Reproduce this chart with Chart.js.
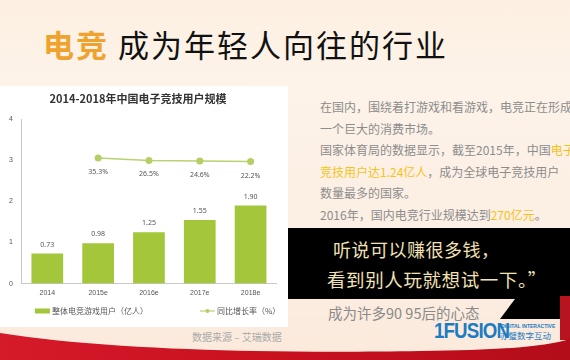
<!DOCTYPE html>
<html><head><meta charset="utf-8">
<script src="https://cdn.jsdelivr.net/npm/chart.js@4/dist/chart.umd.min.js"></script>
<style>
html,body{margin:0;padding:0;}
body{width:570px;height:360px;overflow:hidden;position:relative;font-family:"Noto Sans CJK SC","Noto Sans",sans-serif;
 background:linear-gradient(180deg,#fdf0e2 0%,#fdf3e9 25%,#fcefe4 60%,#fbeadc 100%);}
.abs{position:absolute;white-space:nowrap;}
#title{left:43px;top:22px;font-size:31px;letter-spacing:2px;color:#111;line-height:44px;}
#title b{color:#f0a22e;font-weight:bold;}
#panel{left:0;top:86px;width:288px;height:241px;background:#fff;}
#txt{left:320px;top:96px;font-size:12px;line-height:21.6px;color:#8c8c8c;}
#txt .hl{color:#f6c21a;}
#black{left:0;top:0;width:570px;height:360px;}
#q1{left:333px;top:236px;font-size:18px;color:#f2e2b4;letter-spacing:0.5px;}
#q2{left:327px;top:266px;font-size:18.5px;color:#f2e2b4;letter-spacing:0.6px;}
#sub{left:328px;top:302px;font-size:14.5px;color:#8a8a8a;}
#src{left:192px;top:329px;font-size:10px;color:#aaa;}
#logo{left:434px;top:318px;font-family:"Liberation Sans Narrow","Liberation Sans",sans-serif;font-weight:bold;font-size:22px;color:#1b7cc4;letter-spacing:-1px;transform:scaleX(0.85);transform-origin:0 0;}
#logo2{left:501px;top:323px;font-size:5px;color:#1b7cc4;font-family:"Liberation Sans",sans-serif;font-weight:bold;}
#logo3{left:500px;top:329px;font-size:8.5px;color:#1b7cc4;}
</style></head>
<body>
<svg class="abs" id="black" width="570" height="360" viewBox="0 0 570 360">
 <defs><linearGradient id="rg" x1="0" y1="0" x2="1" y2="0">
  <stop offset="0" stop-color="#d51a2a"/><stop offset="0.5" stop-color="#c8101f"/><stop offset="1" stop-color="#b30d1a"/></linearGradient></defs>
 <polygon points="288,228 570,228 570,319 500,319 515,299 288,299" fill="#000"/>
 <rect x="560" y="296" width="10" height="44" fill="#b8141f"/>
 <path d="M0,333 C120,352 300,353 420,351 C500,350 545,347 570,339 L570,360 L0,360 Z" fill="url(#rg)"/>
</svg>
<div class="abs" id="title"><b>电竞</b> 成为年轻人向往的行业</div>
<div class="abs" id="panel"><canvas id="c" width="288" height="241"></canvas></div>
<div class="abs" id="txt">在国内，围绕着打游戏和看游戏，电竞正在形成<br>一个巨大的消费市场。<br>国家体育局的数据显示，截至2015年，中国<span class="hl">电子</span><br><span class="hl">竞技用户达1.24亿人</span>，成为全球电子竞技用户<br>数量最多的国家。<br>2016年，国内电竞行业规模达到<span class="hl">270亿元</span>。</div>
<div class="abs" id="q1">听说可以赚很多钱，</div>
<div class="abs" id="q2">看到别人玩就想试一下。”</div>
<div class="abs" id="sub">成为许多90 95后的心态</div>
<div class="abs" id="src">数据来源 – 艾瑞数据</div>
<div class="abs" id="logo">1FUSION</div>
<div class="abs" id="logo2">DIGITAL INTERACTIVE</div>
<div class="abs" id="logo3">亦璧数字互动</div>
<script>
const chartTitle = '2014-2018年中国电子竞技用户规模';
const categories = ['2014','2015e','2016e','2017e','2018e'];
const users = [0.73, 0.98, 1.25, 1.55, 1.90];
const growth = [null, 35.3, 26.5, 24.6, 22.2];
const seriesNames = ['整体电竞游戏用户（亿人）', '同比增长率（%）'];
const yTicks = [0, 1, 2, 3, 4];

const labelPlugin = {
  id: 'valueLabels',
  afterDatasetsDraw(chart) {
    const ctx = chart.ctx;
    chart.data.datasets.forEach((ds, i) => {
      const meta = chart.getDatasetMeta(i);
      meta.data.forEach((el, j) => {
        const v = ds.data[j];
        if (v == null) return;
        ctx.save();
        ctx.font = '7px "Noto Sans","DejaVu Sans",sans-serif';
        ctx.fillStyle = '#555';
        ctx.textAlign = 'center';
        ctx.textBaseline = 'middle';
        if (ds.type === 'bar') ctx.fillText(v.toFixed(2), el.x, el.y - 9);
        else ctx.fillText(v.toFixed(1) + '%', el.x, el.y + 14);
        ctx.restore();
      });
    });
  }
};

const legendPlugin = {
  id: 'customLegend',
  afterDraw(chart) {
    const ctx = chart.ctx;
    ctx.save();
    ctx.font = '8px "Noto Sans CJK SC",sans-serif';
    ctx.textBaseline = 'middle';
    const y = chart.height - 16;
    let x = chart.chartArea.left + 13;
    chart.data.datasets.forEach((ds) => {
      if (ds.type === 'bar') {
        ctx.fillStyle = ds.backgroundColor;
        ctx.fillRect(x, y - 2.5, 15, 5);
      } else {
        ctx.strokeStyle = ds.borderColor; ctx.lineWidth = 1.2;
        ctx.beginPath(); ctx.moveTo(x, y); ctx.lineTo(x + 15, y); ctx.stroke();
        ctx.fillStyle = ds.pointBackgroundColor;
        ctx.beginPath(); ctx.arc(x + 7.5, y, 2, 0, Math.PI * 2); ctx.fill();
      }
      x += 17;
      ctx.fillStyle = '#555';
      ctx.fillText(ds.label, x, y);
      x += ctx.measureText(ds.label).width + 52;
    });
    ctx.restore();
  }
};

new Chart(document.getElementById('c'), {
  data: {
    labels: categories,
    datasets: [
      { type: 'bar', label: seriesNames[0], data: users, backgroundColor: '#a3c63a', borderWidth: 0,
        categoryPercentage: 0.8, barPercentage: 0.78, yAxisID: 'y' },
      { type: 'line', label: seriesNames[1], data: growth, borderColor: '#b9d271', backgroundColor: '#b9d271',
        borderWidth: 1.5, pointRadius: 3.5, pointBackgroundColor: '#b5cf66', pointBorderWidth: 0,
        yAxisID: 'y2' }
    ]
  },
  options: {
    responsive: false, animation: false,
    layout: { padding: { left: 0, right: 12, top: 0, bottom: 25 } },
    plugins: {
      title: { display: true, text: chartTitle, color: '#333',
        font: { size: 11, weight: 'bold', family: '"Noto Sans CJK SC",sans-serif' }, padding: { top: 6, bottom: 14 } },
      legend: { display: false },
      tooltip: { enabled: false }
    },
    scales: {
      x: { grid: { display: false, drawTicks: false }, border: { color: '#c8c8c8' },
        ticks: { color: '#555', font: { size: 7 }, padding: 5 } },
      y: { min: 0, max: 4, afterBuildTicks: s => { s.ticks = yTicks.map(v => ({ value: v })); },
        grid: { display: false, drawTicks: false }, border: { color: '#c8c8c8' },
        ticks: { color: '#555', font: { size: 7 }, padding: 9 } },
      y2: { display: false, min: -420, max: 176 }
    }
  },
  plugins: [labelPlugin, legendPlugin]
});
</script>
</body></html>
